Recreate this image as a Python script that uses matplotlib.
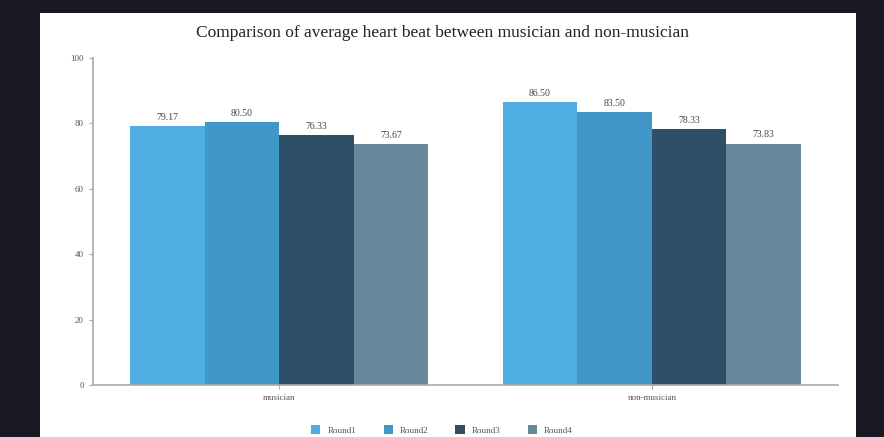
import numpy as np
import matplotlib.pyplot as plt
from matplotlib.patches import Rectangle

groups = ["musician", "non-musician"]
rounds = ["Round1", "Round2", "Round3", "Round4"]
round1 = [79.17, 86.50]
round2 = [80.50, 83.50]
round3 = [76.33, 78.33]
round4 = [73.67, 73.83]
colors = ["#4eaee3", "#4297c9", "#2d5068", "#67899c"]

plt.rcParams["font.family"] = ["Liberation Serif", "DejaVu Serif"]

fig = plt.figure(figsize = (8.84, 4.37), dpi = 100, facecolor = "#191923")
# white card behind the chart
fig.patches.append(Rectangle((40 / 884, 0), 816 / 884, 424 / 437, transform = fig.transFigure,
                             facecolor = "white", edgecolor = "none", zorder = -10))

ax = fig.add_axes([93 / 884, 52 / 437, 745 / 884, 327 / 437])
ax.set_facecolor("white")

x = np.arange(len(groups))
w = 0.2
for i, (vals, name) in enumerate(zip([round1, round2, round3, round4], rounds)):
    bars = ax.bar(x + (i - 1.5) * w, vals, width = w, color = colors[i], label = name)
    ax.bar_label(bars, labels = [f"{v:.2f}" for v in vals], padding = 3, fontsize = 7, color = "#444444")

ax.set_xlim(-0.5, 1.5)
ax.set_ylim(0, 100)
ax.set_yticks(range(0, 101, 20))
ax.set_xticks(x, groups)
for s in ["top", "right"]:
    ax.spines[s].set_visible(False)
for s in ["left", "bottom"]:
    ax.spines[s].set_color("#aaaaaa")
    ax.spines[s].set_linewidth(1.2)
ax.tick_params(colors = "#aaaaaa", labelcolor = "#555555", labelsize = 6.5, length = 3)

fig.text(0.5, 1 - 33 / 437, "Comparison of average heart beat between musician and non-musician",
         ha = "center", va = "center", fontsize = 12.5, color = "#222222")

fig.legend(loc = "center", bbox_to_anchor = (0.5, 1 - 430 / 437), ncol = 4, frameon = False,
           fontsize = 6.5, handlelength = 1, handleheight = 1, columnspacing = 3, labelcolor = "#555555")

fig.savefig("out.png", dpi = 100, facecolor = fig.get_facecolor())
